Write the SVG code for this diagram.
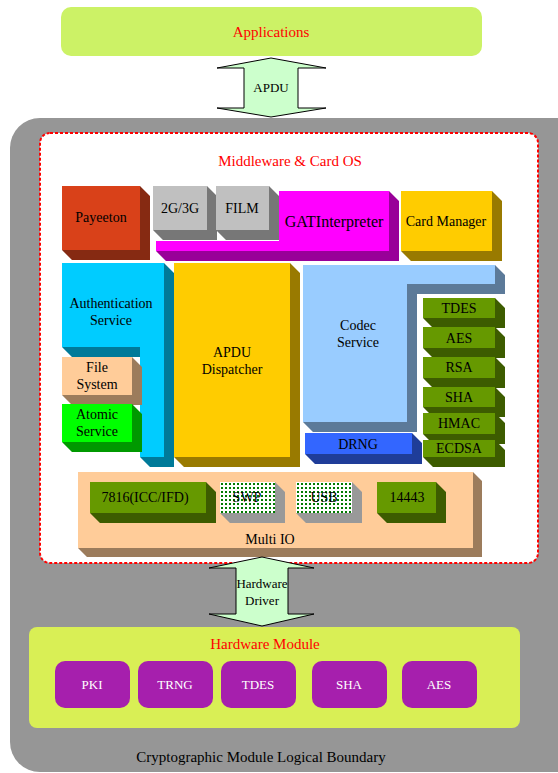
<svg xmlns="http://www.w3.org/2000/svg" width="558" height="773" viewBox="0 0 558 773">
<defs>
<style>
text{font-family:"Liberation Serif","Times New Roman",serif;text-anchor:middle;fill:#000}
.t13{font-size:13px}.t14{font-size:14px}.t15{font-size:15px}.t16{font-size:16px}
.red{fill:#ff0000}.wh{fill:#ffffff}
.arrow{fill:#ccffcc;stroke:#000;stroke-width:1}
.grn{fill:#669900}.grnd{fill:#3d5c00}
.hw{fill:#a61fad}
</style>
<pattern id="dots" x="221" y="483" width="4" height="4" patternUnits="userSpaceOnUse">
<rect width="4" height="4" fill="#ffffff"/>
<rect x="0" y="0" width="2" height="2" fill="#007a00"/>
</pattern>
</defs>
<rect width="558" height="773" fill="#ffffff"/>

<g id="boundary">
<rect x="10" y="118" width="580" height="654" rx="30" fill="#969696"/>
<text class="t15" x="261" y="762">Cryptographic Module Logical Boundary</text>
</g>

<g id="applications">
<rect x="61" y="7" width="421" height="49" rx="10" fill="#ccf266"/>
<text class="t15 red" x="271" y="37">Applications</text>
</g>

<g id="middleware">
<rect x="40" y="133" width="498" height="430" rx="10" fill="#ffffff" stroke="#ff0000" stroke-width="2" stroke-dasharray="3 2"/>
<text class="t15 red" x="290" y="166">Middleware &amp; Card OS</text>
</g>

<g id="payeeton">
<polygon points="140,186 150,196 150,260 72,260 62,250 140,250" fill="#862a12"/>
<rect x="62" y="186" width="78" height="64" fill="#d94119"/>
<text class="t14" x="101" y="222">Payeeton</text>
</g>

<g id="gat">
<polygon points="156,241 279,241 279,191 389,191 399,201 399,261 166,261 156,251" fill="#990099"/>
<polygon points="279,191 389,191 389,251 156,251 156,241 279,241" fill="#ff00ff"/>
<text class="t16" x="334" y="227">GATInterpreter</text>
</g>

<g id="g2g3g">
<polygon points="207,186 217,196 217,240 163,240 153,230 207,230" fill="#777777"/>
<rect x="153" y="186" width="54" height="44" fill="#c0c0c0"/>
<text class="t14" x="180" y="213">2G/3G</text>
</g>

<g id="film">
<polygon points="269,186 279,196 279,240 226,240 216,230 269,230" fill="#777777"/>
<rect x="216" y="186" width="53" height="44" fill="#c0c0c0"/>
<text class="t14" x="242" y="213">FILM</text>
</g>

<g id="cardmanager">
<polygon points="492,191 502,201 502,261 411,261 401,251 492,251" fill="#997a00"/>
<rect x="401" y="191" width="91" height="60" fill="#ffcc00"/>
<text class="t14" x="446" y="226">Card Manager</text>
</g>

<g id="auth">
<polygon points="62,263 164,263 174,273 174,467 150,467 140,457 140,357 72,357 62,347" fill="#007a99"/>
<polygon points="62,263 164,263 164,457 140,457 140,347 62,347" fill="#00ccff"/>
<text class="t14" x="111" y="308">Authentication</text>
<text class="t14" x="111" y="325">Service</text>
</g>

<g id="filesystem">
<polygon points="132,357 142,367 142,405 72,405 62,395 132,395" fill="#9c7c5c"/>
<rect x="62" y="357" width="70" height="38" fill="#ffcc99"/>
<text class="t14" x="97" y="372">File</text>
<text class="t14" x="97" y="389">System</text>
</g>

<g id="atomic">
<polygon points="132,404 142,414 142,452 72,452 62,442 132,442" fill="#009900"/>
<rect x="62" y="404" width="70" height="38" fill="#00ff00"/>
<text class="t14" x="97" y="419">Atomic</text>
<text class="t14" x="97" y="436">Service</text>
</g>

<g id="dispatcher">
<polygon points="290,263 300,273 300,467 184,467 174,457 290,457" fill="#997a00"/>
<rect x="174" y="263" width="116" height="194" fill="#ffcc00"/>
<text class="t14" x="232" y="357">APDU</text>
<text class="t14" x="232" y="374">Dispatcher</text>
</g>

<g id="codec">
<polygon points="495,265 505,275 505,294 417,294 417,432 313,432 303,422 407,422 407,284 495,284" fill="#5c7a99"/>
<polygon points="303,265 495,265 495,284 407,284 407,422 303,422" fill="#99ccff"/>
<text class="t14" x="358" y="330">Codec</text>
<text class="t14" x="358" y="347">Service</text>
</g>

<g id="drng">
<polygon points="412,433 422,443 422,464 315,464 305,454 412,454" fill="#1f3d99"/>
<rect x="305" y="433" width="107" height="21" fill="#3366ff"/>
<text class="t14" x="358" y="449">DRNG</text>
</g>

<g id="tdes">
<polygon points="495,298 505,308 505,328 433,328 423,318 495,318" class="grnd"/>
<rect x="423" y="298" width="72" height="20" class="grn"/>
<text class="t14" x="459" y="313">TDES</text>
</g>
<g id="aes">
<polygon points="495,327 505,337 505,358 433,358 423,348 495,348" class="grnd"/>
<rect x="423" y="327" width="72" height="21" class="grn"/>
<text class="t14" x="459" y="343">AES</text>
</g>
<g id="rsa">
<polygon points="495,357 505,367 505,388 433,388 423,378 495,378" class="grnd"/>
<rect x="423" y="357" width="72" height="21" class="grn"/>
<text class="t14" x="459" y="372">RSA</text>
</g>
<g id="sha">
<polygon points="495,387 505,397 505,417 433,417 423,407 495,407" class="grnd"/>
<rect x="423" y="387" width="72" height="20" class="grn"/>
<text class="t14" x="459" y="402">SHA</text>
</g>
<g id="hmac">
<polygon points="495,413 505,423 505,444 433,444 423,434 495,434" class="grnd"/>
<rect x="423" y="413" width="72" height="21" class="grn"/>
<text class="t14" x="459" y="428">HMAC</text>
</g>
<g id="ecdsa">
<polygon points="495,440 505,450 505,467 433,467 423,457 495,457" class="grnd"/>
<rect x="423" y="440" width="72" height="17" class="grn"/>
<text class="t14" x="459" y="453">ECDSA</text>
</g>

<g id="multiio">
<polygon points="473,472 482,481 482,557 87,557 78,548 473,548" fill="#9c7c5c"/>
<rect x="78" y="472" width="395" height="76" fill="#ffcc99"/>
<text class="t14" x="270" y="544">Multi IO</text>
</g>

<g id="io7816">
<polygon points="206,482 216,492 216,523 100,523 90,513 206,513" class="grnd"/>
<rect x="90" y="482" width="116" height="31" class="grn"/>
<text class="t14" x="145" y="502">7816(ICC/IFD)</text>
</g>
<g id="swp">
<polygon points="275,482 285,492 285,523 230,523 220,513 275,513" fill="#999999"/>
<rect x="220" y="482" width="55" height="31" fill="url(#dots)"/>
<text class="t14" x="247" y="502" fill="#333">SWP</text>
</g>
<g id="usb">
<polygon points="352,482 362,492 362,523 306,523 296,513 352,513" fill="#999999"/>
<rect x="296" y="482" width="56" height="31" fill="url(#dots)"/>
<text class="t14" x="324" y="502" fill="#333">USB</text>
</g>
<g id="io14443">
<polygon points="436,482 446,492 446,523 387,523 377,513 436,513" class="grnd"/>
<rect x="377" y="482" width="59" height="31" class="grn"/>
<text class="t14" x="407" y="502">14443</text>
</g>

<g id="hardware">
<rect x="29" y="627" width="491" height="101" rx="8" fill="#d9ef55"/>
<text class="t15 red" x="265" y="649">Hardware Module</text>
</g>
<g id="hw-pki"><rect x="55" y="661" width="75" height="47" rx="10" class="hw"/><text class="t13 wh" x="92" y="689">PKI</text></g>
<g id="hw-trng"><rect x="138" y="661" width="75" height="47" rx="10" class="hw"/><text class="t13 wh" x="175" y="689">TRNG</text></g>
<g id="hw-tdes"><rect x="221" y="661" width="75" height="47" rx="10" class="hw"/><text class="t13 wh" x="258" y="689">TDES</text></g>
<g id="hw-sha"><rect x="312" y="661" width="75" height="47" rx="10" class="hw"/><text class="t13 wh" x="349" y="689">SHA</text></g>
<g id="hw-aes"><rect x="402" y="661" width="75" height="47" rx="10" class="hw"/><text class="t13 wh" x="439" y="689">AES</text></g>

<g id="connectors">
<polygon class="arrow" points="271,58 326,68 298,68 298,108 326,108 271,117 217,108 244,108 244,68 217,68"/>
<text class="t13" x="271" y="92">APDU</text>
<polygon class="arrow" points="262,557 314,568 288,568 288,614 314,614 262,626 209,614 236,614 236,568 209,568"/>
<text class="t13" x="262" y="588">Hardware</text>
<text class="t13" x="262" y="605">Driver</text>
</g>
</svg>
